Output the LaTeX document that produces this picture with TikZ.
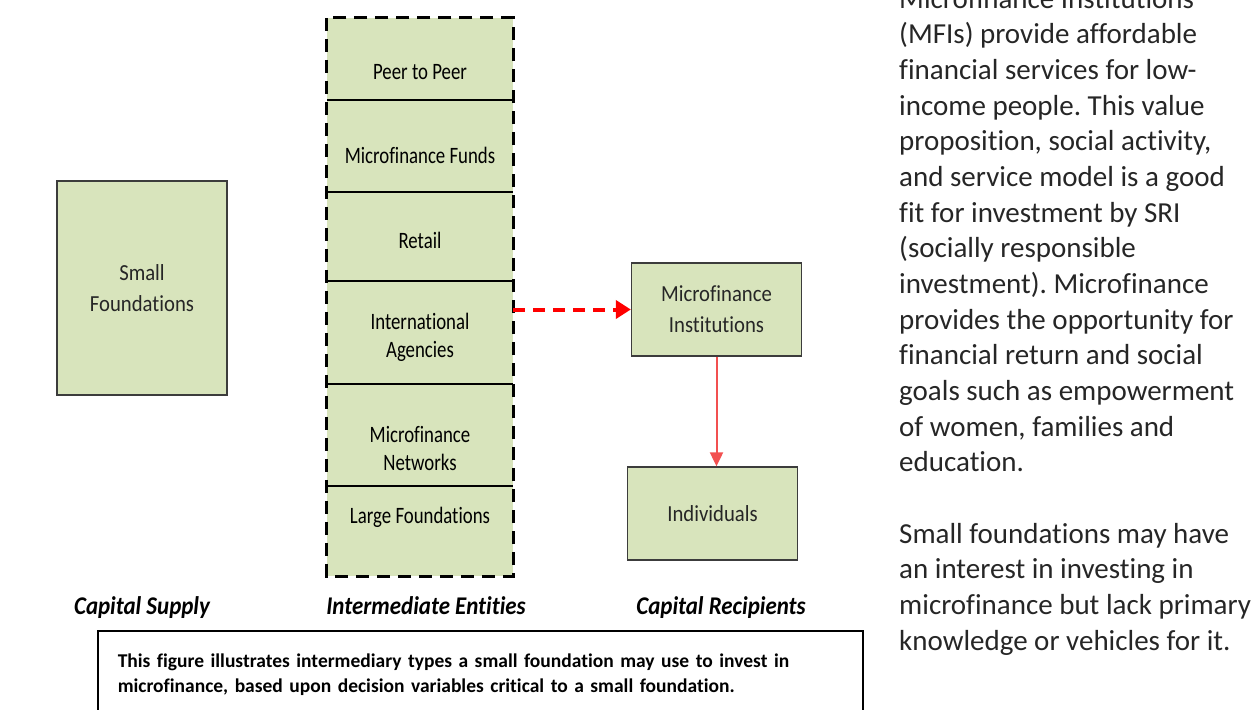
\documentclass[tikz,border=0pt]{standalone}
\usepackage{fontspec}
\setmainfont[Ligatures={TeX,NoCommon}]{Carlito}
\newfontfamily\boxfont[FakeStretch=0.8,Ligatures=NoCommon]{Carlito}
\newfontfamily\plainfont[FakeStretch=0.9,Ligatures=NoCommon]{Carlito}
\newfontfamily\headfont[FakeStretch=0.9,Ligatures=NoCommon]{Carlito}
\usetikzlibrary{arrows.meta,positioning}
\tikzset{>={Latex[width=3pt,length=5pt]}}
\frenchspacing
\definecolor{boxgreen}{RGB}{216,228,188}
\definecolor{boxline}{RGB}{60,60,60}
\definecolor{textgray}{RGB}{38,38,38}
\definecolor{linkred}{RGB}{242,80,80}
\tikzset{
  greenbox/.style={draw=boxline, fill=boxgreen, line width=1.3pt, inner sep=0pt,
    minimum width=170pt, align=center, text=textgray,
    font=\plainfont\fontsize{23}{31}\selectfont},
  entry/.style={align=center, text=black, font=\boxfont\fontsize{23.5}{28}\selectfont},
  heading/.style={anchor=base, text=black, font=\headfont\bfseries\itshape\fontsize{25.5}{28}\selectfont},
}

\begin{document}
\begin{tikzpicture}[x=1pt,y=-1pt]
  \useasboundingbox (0,0) rectangle (1260,709);

  \newcommand\colL{327};
  \newcommand\colR{513};

  % capital supply
  \node[greenbox, minimum height=214pt] (small) at (142,288) {Small\\Foundations};

  % intermediate entities
  \node[fill=boxgreen, inner sep=0pt, minimum width=186pt, minimum height=558pt] (mid) at (420,297) {};
  \foreach \y in {100,192,281,384,486}
    \draw[line width=1.5pt] (\colL,\y) -- (\colR,\y);
  \draw[line width=3.3pt, dash pattern=on 13pt off 8pt] (mid.north west) rectangle (mid.south east);
  \node[entry] (peer)  at (420,72)  {Peer to Peer};
  \node[entry] (funds) at (420,155) {Microfinance Funds};
  \node[entry] (retail) at (420,240) {Retail};
  \node[entry] (agency) at (420,337) {International\\Agencies};
  \node[entry] (network) at (420,448) {Microfinance\\Networks};
  \node[entry] (large) at (420,517) {Large Foundations};

  % capital recipients
  \node[greenbox, minimum height=93pt] (mfi) at (716.5,309.5) {Microfinance\\Institutions};
  \node[greenbox, minimum height=93pt] (indiv) at (712.5,513.5) {Individuals};

  \draw[red, line width=4pt, dash pattern=on 12pt off 8pt, -{Triangle[length=15pt,width=18pt]}]
    (mid.east |- mfi.west) -- (mfi.west); % mid->mfi
  \draw[linkred, line width=2pt, -{Triangle[length=14pt,width=13pt]}]
    (mfi.south) -- (mfi.south |- indiv.north); % mfi->indiv

  \node[heading] (supply) at (142,614) {Capital Supply};
  \node[heading] (entities) at (426,614) {Intermediate Entities};
  \node[heading] (recipients) at (721,614) {Capital Recipients};

  % caption
  \node[draw, line width=1.5pt, anchor=north west, minimum width=765pt, minimum height=87pt,
    inner xsep=20pt, text width=725pt, align=left, font=\bfseries\fontsize{19.5}{25}\selectfont]
    (caption) at (97,630) {This figure illustrates intermediary types a small foundation may use to invest in\\
      microfinance, based upon decision variables critical to a small foundation.};

  % side text, placed by its last baseline
  \node[anchor=base west, inner sep=0pt, align=left, text=textgray, font=\fontsize{29}{35.66}\selectfont]
    (blurb) at (899,650) {Microfinance Institutions\\
      (MFIs) provide affordable\\
      financial services for low-\\
      income people. This value\\
      proposition, social activity,\\
      and service model is a good\\
      fit for investment by SRI\\
      (socially responsible\\
      investment). Microfinance\\
      provides the opportunity for\\
      financial return and social\\
      goals such as empowerment\\
      of women, families and\\
      education.\\[35.66pt]
      Small foundations may have\\
      an interest in investing in\\
      microfinance but lack primary\\
      knowledge or vehicles for it.};
\end{tikzpicture}
\end{document}
